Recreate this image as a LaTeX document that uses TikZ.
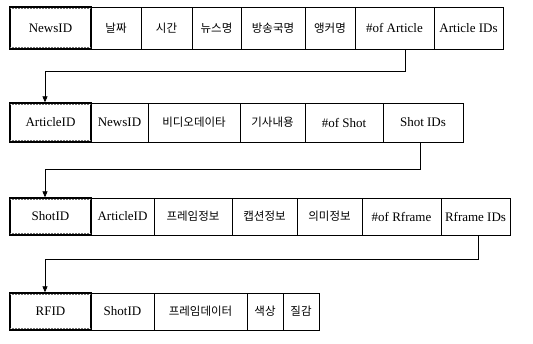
\documentclass[tikz,border=0pt]{standalone}
\usepackage{fontspec}
\setmainfont{Liberation Serif}
\newfontfamily\kr{Noto Sans CJK KR}
\usetikzlibrary{arrows.meta}
\tikzset{
  cell/.style={draw=black, line width=0.7pt, inner sep=0pt, anchor=center,
    font=\fontsize{13}{15}\selectfont},
  keycell/.style={cell, line width=1.3pt},
  krtext/.style={font=\kr\fontsize{11.5}{13}\selectfont},
  link/.style={draw=black, line width=0.7pt},
  linkarrow/.style={link, -{Triangle[length=6pt,width=5pt]}},
  grain/.style={draw=black!55, line width=1.6pt, dash pattern=on 0.6pt off 0.9pt}
}
\newcommand\mycell[7][cell]{%
  \node[#1, minimum width={(#4-#3)*1pt}, minimum height={(#6-#5)*1pt}]
    (#2) at ({(#3+#4)/2},{(#5+#6)/2}) {#7};}
\newcommand\keymark[1]{%
  \draw[grain] ([yshift=-2pt,xshift=1pt]#1.north west) -- ([yshift=-2pt,xshift=-1pt]#1.north east);
  \draw[grain] ([yshift=2pt,xshift=1pt]#1.south west) -- ([yshift=2pt,xshift=-1pt]#1.south east);}
\begin{document}
\begin{tikzpicture}[x=1pt,y=-1pt]
\useasboundingbox (0,0) rectangle (533,343);
% Row 1
\mycell[keycell]{a1}{10}{91}{7}{49}{NewsID}
\mycell[cell,krtext]{a2}{91}{141}{7}{49}{날짜}
\mycell[cell,krtext]{a3}{141}{192}{7}{49}{시간}
\mycell[cell,krtext]{a4}{192}{241}{7}{49}{뉴스명}
\mycell[cell,krtext]{a5}{241}{305}{7}{49}{방송국명}
\mycell[cell,krtext]{a6}{305}{355}{7}{49}{앵커명}
\mycell{a7}{355}{434}{7}{49}{\#of Article}
\mycell{a8}{434}{503}{7}{49}{Article IDs}
\keymark{a1}
% Row 2
\mycell[keycell]{b1}{10}{91}{103}{142}{ArticleID}
\mycell{b2}{91}{148}{103}{142}{NewsID}
\mycell[cell,krtext]{b3}{148}{240}{103}{142}{비디오데이타}
\mycell[cell,krtext]{b4}{240}{305}{103}{142}{기사내용}
\mycell{b5}{305}{383}{103}{142}{\#of Shot}
\mycell{b6}{383}{463}{103}{142}{Shot IDs}
\keymark{b1}
% Row 3
\mycell[keycell]{c1}{10}{91}{198}{235}{ShotID}
\mycell{c2}{91}{154}{198}{235}{ArticleID}
\mycell[cell,krtext]{c3}{154}{232}{198}{235}{프레임정보}
\mycell[cell,krtext]{c4}{232}{297}{198}{235}{캡션정보}
\mycell[cell,krtext]{c5}{297}{362}{198}{235}{의미정보}
\mycell{c6}{362}{441}{198}{235}{\#of Rframe}
\mycell{c7}{441}{510}{198}{235}{Rframe IDs}
\keymark{c1}
% Row 4
\mycell[keycell]{d1}{10}{91}{293}{330}{RFID}
\mycell{d2}{91}{154}{293}{330}{ShotID}
\mycell[cell,krtext]{d3}{154}{247}{293}{330}{프레임데이터}
\mycell[cell,krtext]{d4}{247}{283}{293}{330}{색상}
\mycell[cell,krtext]{d5}{283}{319}{293}{330}{질감}
\keymark{d1}
% Connectors
\coordinate (k1) at (405,71);
\coordinate (t1) at (45,71);
\draw[link] (a7.south -| k1) -- (k1) -- (t1);
\draw[linkarrow] (t1) -- (t1 |- b1.north);
\coordinate (k2) at (420,169);
\coordinate (t2) at (45,169);
\draw[link] (b6.south -| k2) -- (k2) -- (t2);
\draw[linkarrow] (t2) -- (t2 |- c1.north);
\coordinate (k3) at (478,259);
\coordinate (t3) at (45,259);
\draw[link] (c7.south -| k3) -- (k3) -- (t3);
\draw[linkarrow] (t3) -- (t3 |- d1.north);
\end{tikzpicture}
\end{document}
